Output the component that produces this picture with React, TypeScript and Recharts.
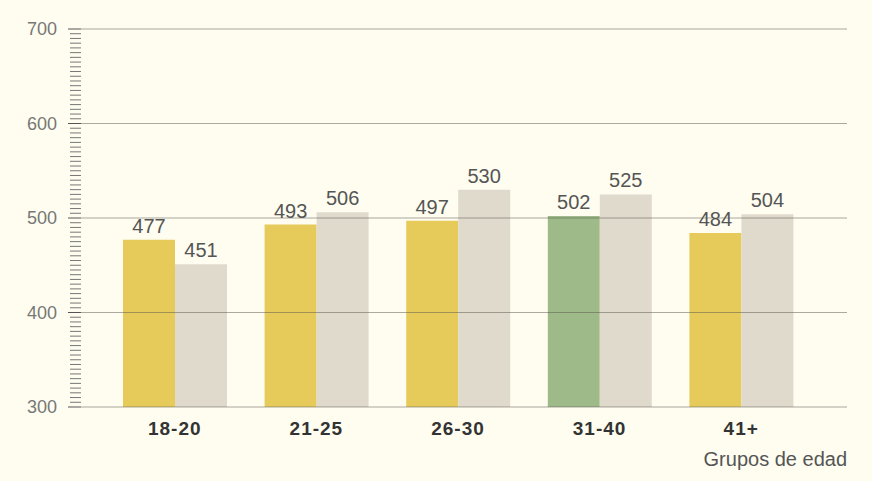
import React from 'react'
import {BarChart, Bar, XAxis, YAxis, ReferenceLine, LabelList, Cell} from 'recharts'

const ageGroups = ['18-20', '21-25', '26-30', '31-40', '41+']
const firstScores = [477, 493, 497, 502, 484]
const secondScores = [451, 506, 530, 525, 504]
const highlightGroup = '31-40'
const majorTicks = [300, 400, 500, 600, 700]

// menor cada 5 puntos
const minorTicks: number[] = []
for (let v = 300; v <= 700; v += 5) minorTicks.push(v)

const data = ageGroups.map((group, i) => ({
  group,
  first: firstScores[i],
  second: secondScores[i]
}))

const FONT = '"Liberation Sans", Arial, sans-serif'
const BG = '#fefdf0'

const YTick = (props: any) => {
  const {x, y, payload} = props
  const isMajor = payload.value % 100 === 0
  return (
    <g>
      <line
        x1={x - (isMajor ? 13 : 11)}
        x2={x}
        y1={y}
        y2={y}
        stroke={isMajor ? '#555' : '#777'}
        strokeWidth={1}
      />
      {isMajor && (
        <text x={x - 24} y={y} dy='0.35em' textAnchor='end' fill='#777' fontSize={18} fontFamily={FONT}>
          {payload.value}
        </text>
      )}
    </g>
  )
}

const AxisTitle = (props: any) => {
  const {viewBox} = props
  return (
    <text
      x={viewBox.x + viewBox.width}
      y={viewBox.y + 59}
      textAnchor='end'
      fill='#555'
      fontSize={20}
      fontFamily={FONT}
    >
      Grupos de edad
    </text>
  )
}

const App: React.FC = () => {
  return (
    <div style={{position: 'absolute', left: 0, top: 0, width: 872, height: 481, background: BG}}>
      <BarChart
        width={872}
        height={481}
        data={data}
        margin={{top: 29, right: 25, bottom: 0, left: 0}}
        barGap={0}
        style={{fontFamily: FONT}}
      >
        <XAxis
          dataKey='group'
          axisLine={false}
          tickLine={false}
          tickSize={0}
          tickMargin={15}
          height={74}
          padding={{left: 23, right: 35}}
          tick={{fill: '#333', fontSize: 19, fontWeight: 700, fontFamily: FONT, letterSpacing: 1}}
          label={<AxisTitle />}
        />
        <YAxis
          domain={[300, 700]}
          ticks={minorTicks}
          interval={0}
          axisLine={false}
          tickLine={false}
          tickSize={0}
          tickMargin={0}
          width={81}
          tick={<YTick />}
        />
        <Bar dataKey='first' barSize={52} fill='#e6cb5b' isAnimationActive={false}>
          {data.map(d => (
            <Cell key={d.group} fill={d.group === highlightGroup ? '#9dba88' : '#e6cb5b'} />
          ))}
          <LabelList dataKey='first' position='top' offset={7} fill='#555' fontSize={20} fontFamily={FONT} />
        </Bar>
        <Bar dataKey='second' barSize={52} fill='#e0dacd' isAnimationActive={false}>
          <LabelList dataKey='second' position='top' offset={7} fill='#555' fontSize={20} fontFamily={FONT} />
        </Bar>
        {majorTicks.map(v => (
          <ReferenceLine key={v} y={v} stroke='#5a564c' strokeOpacity={0.5} strokeWidth={1} />
        ))}
      </BarChart>
    </div>
  )
}

export default App
